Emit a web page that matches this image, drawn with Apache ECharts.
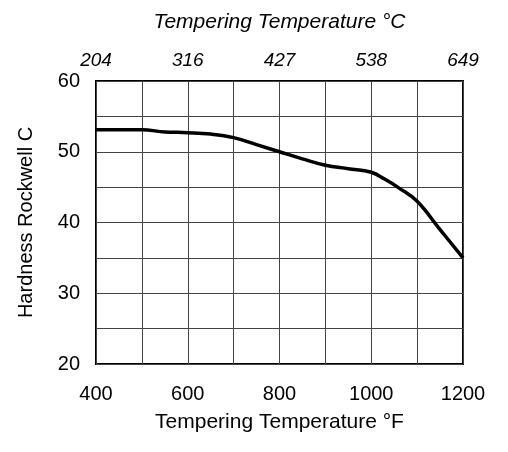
<!DOCTYPE html>
<html>
<head>
<meta charset="utf-8">
<script src="https://cdn.jsdelivr.net/npm/echarts@6/dist/echarts.min.js"></script>
<style>
  html, body { margin: 0; padding: 0; background: #fff; }
  #chart { width: 508px; height: 452px; }
</style>
</head>
<body>
<div id="chart"></div>
<script>
// tempering temperature (°F) and hardness
var tempF = [400, 500, 550, 600, 650, 700, 750, 800, 850, 900, 950, 1000, 1030, 1060, 1100, 1150, 1200];
var hardness = [53.1, 53.1, 52.8, 52.7, 52.5, 52.0, 51.0, 50.0, 49.0, 48.1, 47.6, 47.1, 46.1, 44.9, 43.0, 39.0, 35.0];

// top axis labels (°C) at 400, 600, ... 1200 °F
var tickF = [400, 600, 800, 1000, 1200];
var tickC = ['204', '316', '427', '538', '649'];

var FONT = '"Liberation Sans", Arial, sans-serif';

var chart = echarts.init(document.getElementById('chart'));

var points = [];
for (var i = 0; i < tempF.length; i++) {
  points.push([tempF[i], hardness[i]]);
}

var option = {
  backgroundColor: '#fff',
  animation: false,
  grid: {
    left: 96,
    right: 45,
    top: 81,
    bottom: 88,
    show: true,
    borderColor: '#000',
    borderWidth: 2,
    backgroundColor: 'transparent'
  },
  xAxis: [{
    type: 'value',
    position: 'bottom',
    min: 400,
    max: 1200,
    interval: 100,
    name: 'Tempering Temperature °F',
    nameLocation: 'middle',
    nameGap: 48,
    nameTextStyle: { color: '#000', fontSize: 21, fontFamily: FONT },
    axisLine: { show: false },
    axisTick: { show: false },
    axisLabel: {
      color: '#000',
      fontSize: 20,
      fontFamily: FONT,
      margin: 20,
      formatter: function (v) { return v % 200 === 0 ? String(v) : ''; }
    },
    splitLine: { show: true, lineStyle: { color: '#444', width: 1 } }
  }, {
    type: 'value',
    position: 'top',
    min: 400,
    max: 1200,
    interval: 100,
    name: 'Tempering Temperature °C',
    nameLocation: 'middle',
    nameGap: 48,
    nameTextStyle: { color: '#000', fontSize: 21, fontStyle: 'italic', fontFamily: FONT },
    axisLine: { show: false },
    axisTick: { show: false },
    axisLabel: {
      color: '#000',
      fontSize: 19,
      fontStyle: 'italic',
      fontFamily: FONT,
      margin: 11,
      formatter: function (v) {
        var k = tickF.indexOf(v);
        return k >= 0 ? tickC[k] : '';
      }
    },
    splitLine: { show: false }
  }],
  yAxis: {
    type: 'value',
    min: 20,
    max: 60,
    interval: 5,
    name: 'Hardness Rockwell C',
    nameLocation: 'middle',
    nameGap: 60,
    nameTextStyle: { color: '#000', fontSize: 20, fontFamily: FONT },
    axisLine: { show: false },
    axisTick: { show: false },
    axisLabel: {
      color: '#000',
      fontSize: 20,
      fontFamily: FONT,
      margin: 16,
      formatter: function (v) { return v % 10 === 0 ? String(v) : ''; }
    },
    splitLine: { show: true, lineStyle: { color: '#444', width: 1 } }
  },
  series: [{
    type: 'line',
    xAxisIndex: 0,
    data: points,
    smooth: 0.4,
    showSymbol: false,
    lineStyle: { color: '#000', width: 3.5 }
  }]
};

chart.setOption(option);
</script>
</body>
</html>
